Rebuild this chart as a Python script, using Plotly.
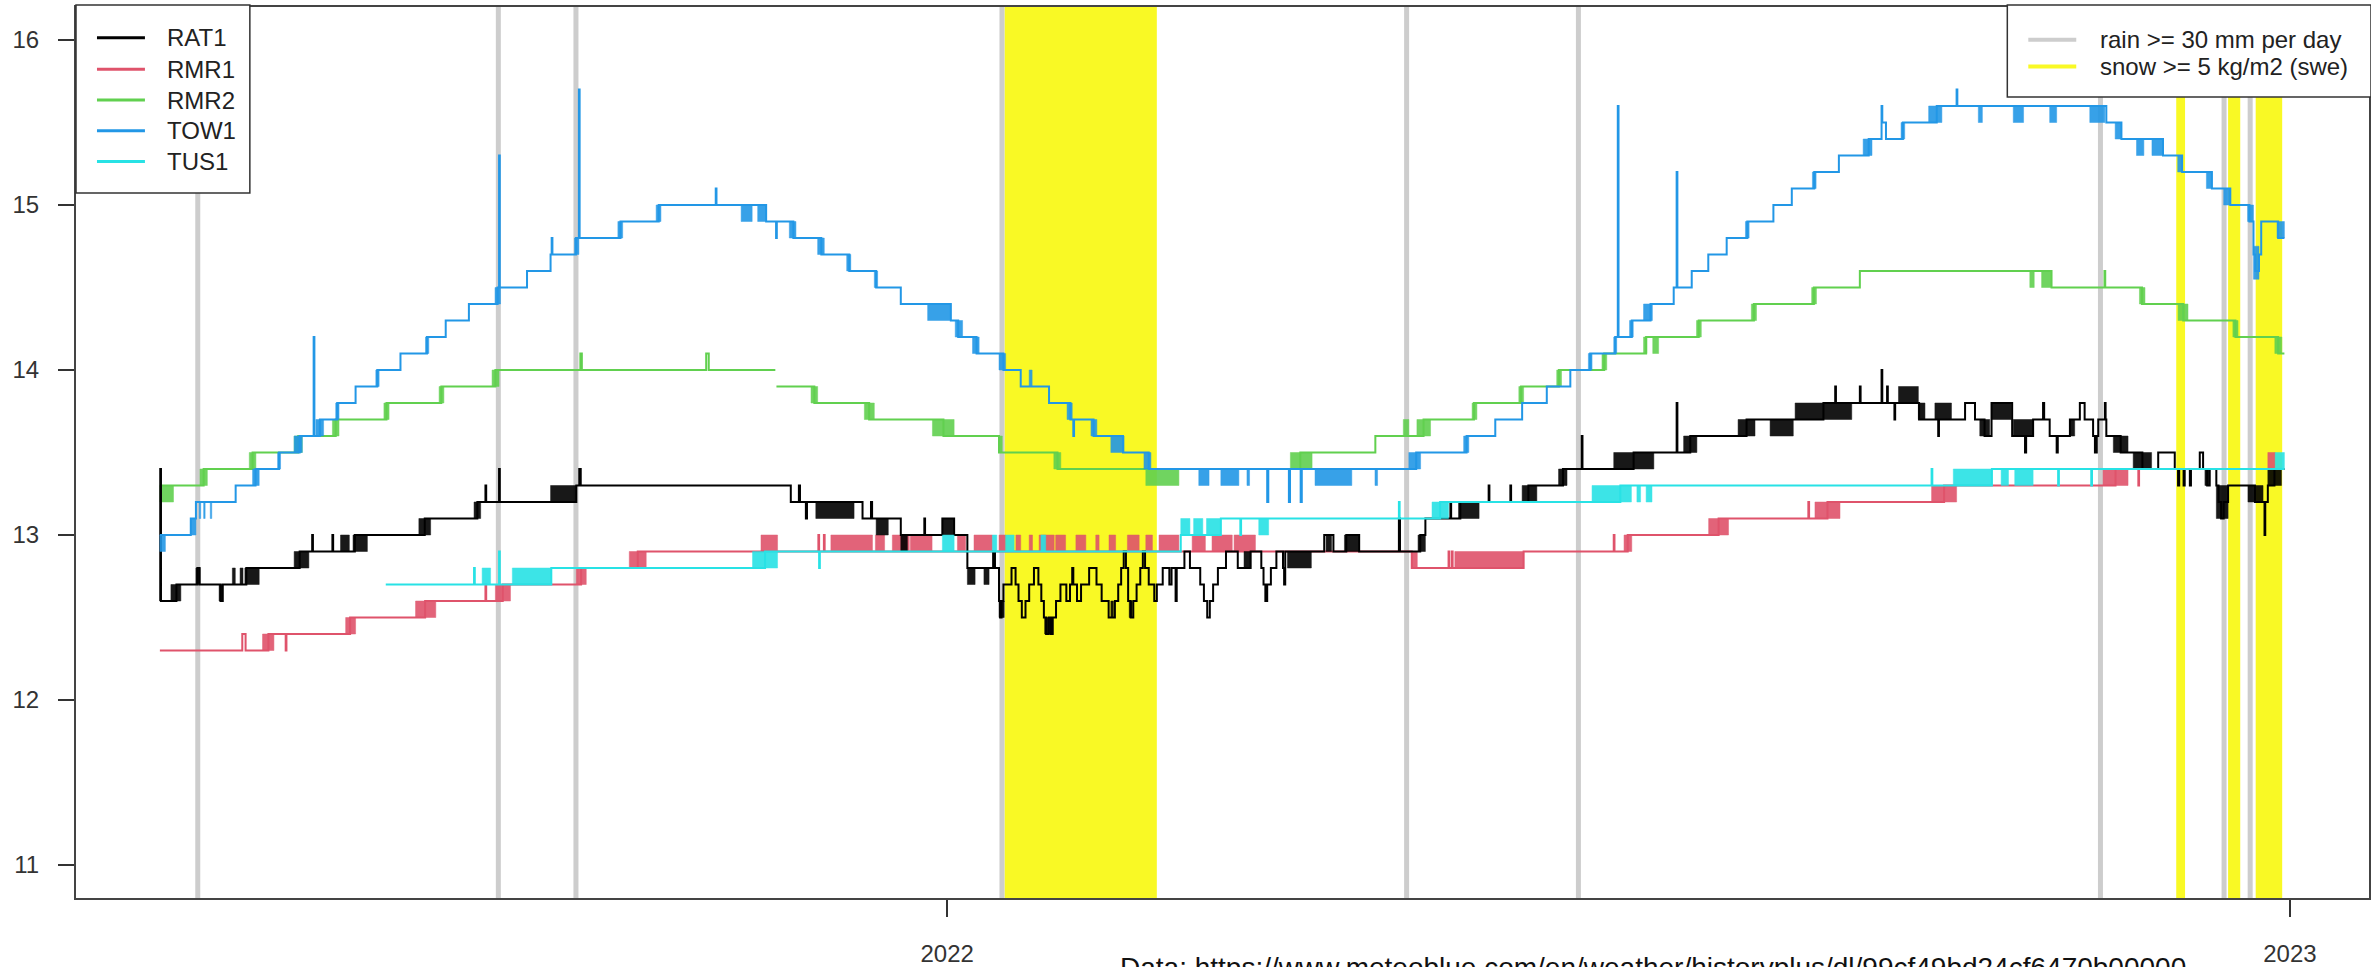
import plotly.graph_objects as go
import pandas as pd

# ---------------- data (x = days since 2022-01-01) ----------------
BASE_DATE = "2022-01-01"
X_RANGE_DAYS = [-236.8, 386.5]
TICK_DAYS = [0, 365]
TICK_LABELS = ["2022", "2023"]
Y_TICKS = [11, 12, 13, 14, 15, 16]

SERIES_NAMES = ["RAT1", "RMR1", "RMR2", "TOW1", "TUS1"]
SERIES_COLORS = {"RAT1": "#000000", "RMR1": "#DF536B", "RMR2": "#61D04F",
                 "TOW1": "#2297E6", "TUS1": "#28E2E5"}

# step-change points (day, value)
TOW1_STEPS = [
    (-214.0, 13.0), (-205.6, 13.1), (-204.2, 13.2), (-193.4, 13.3), (-188.0, 13.4),
    (-181.6, 13.5), (-176.0, 13.6), (-172.2, 14.2), (-172.0, 13.6), (-170.5, 13.7),
    (-165.8, 13.8), (-160.8, 13.9), (-154.9, 14.0), (-148.6, 14.1), (-141.4, 14.2),
    (-136.3, 14.3), (-130.0, 14.4), (-122.2, 14.5), (-121.8, 15.3), (-121.6, 14.5),
    (-114.2, 14.6), (-107.8, 14.7), (-107.5, 14.8), (-107.3, 14.7), (-100.9, 14.8),
    (-100.1, 15.7), (-99.9, 14.8), (-88.8, 14.9), (-78.4, 15.0), (-62.9, 15.1),
    (-62.7, 15.0), (-49.2, 14.9), (-46.5, 14.8), (-46.3, 14.9), (-41.8, 14.8),
    (-34.2, 14.7), (-26.6, 14.6), (-19.3, 14.5), (-12.6, 14.4), (1.0, 14.3),
    (3.0, 14.2), (8.0, 14.1), (15.3, 14.0), (20.0, 13.9), (27.7, 13.8),
    (33.5, 13.7), (34.3, 13.6), (34.5, 13.7), (39.8, 13.6), (47.8, 13.5),
    (54.8, 13.4), (87.0, 13.2), (87.3, 13.4), (92.9, 13.2), (93.2, 13.4),
    (96.1, 13.2), (96.4, 13.4), (127.5, 13.5), (141.2, 13.6), (149.0, 13.7),
    (156.3, 13.8), (163.0, 13.9), (169.4, 14.0), (174.8, 14.1), (181.6, 14.2),
    (182.3, 15.6), (182.5, 14.2), (186.1, 14.3), (191.2, 14.4), (197.5, 14.5),
    (198.3, 15.2), (198.5, 14.5), (202.4, 14.6), (206.9, 14.7), (211.9, 14.8),
    (217.5, 14.9), (224.6, 15.0), (229.6, 15.1), (235.7, 15.2), (242.4, 15.3),
    (250.5, 15.4), (254.0, 15.6), (254.2, 15.5), (255.2, 15.4), (259.8, 15.5),
    (269.0, 15.6), (274.4, 15.7), (274.6, 15.6), (315.1, 15.5), (319.2, 15.4),
    (330.5, 15.3), (335.7, 15.2), (343.8, 15.1), (348.8, 15.0), (354.0, 14.9),
    (355.1, 14.7), (355.6, 14.6), (356.6, 14.7), (357.2, 14.9), (361.8, 14.8),
    (363.5, 14.8),
]
# periods where the reading flickers between two levels (day0, day1, low, high)
TOW1_FLICKER = [
    (-214.0, -212.5, 12.9, 13.0), (-205.6, -204.2, 13.0, 13.1), (-203.3, -202.9, 13.1, 13.2),
    (-202.1, -201.7, 13.1, 13.2), (-200.3, -199.9, 13.1, 13.2), (-188.8, -187.0, 13.3, 13.4),
    (-182.0, -181.2, 13.4, 13.5), (-177.5, -175.3, 13.5, 13.6), (-171.6, -169.5, 13.6, 13.7),
    (-166.2, -165.3, 13.7, 13.8), (-155.3, -154.4, 13.9, 14.0), (-141.8, -140.9, 14.1, 14.2),
    (-122.9, -121.4, 14.4, 14.5), (-101.3, -100.1, 14.7, 14.8), (-89.5, -88.2, 14.8, 14.9),
    (-79.1, -77.8, 14.9, 15.0), (-56.0, -53.0, 14.9, 15.0), (-51.5, -49.2, 14.9, 15.0),
    (-42.9, -41.1, 14.8, 14.9), (-35.2, -33.4, 14.7, 14.8), (-27.3, -26.2, 14.6, 14.7),
    (-19.8, -18.9, 14.5, 14.6), (-5.3, 1.0, 14.3, 14.4), (2.2, 4.2, 14.2, 14.3),
    (6.9, 8.7, 14.1, 14.2), (14.1, 15.9, 14.0, 14.1), (22.3, 23.1, 13.9, 14.0),
    (32.6, 34.0, 13.7, 13.8), (39.1, 40.7, 13.6, 13.7), (44.5, 48.1, 13.5, 13.6),
    (53.5, 55.4, 13.4, 13.5), (68.4, 71.2, 13.3, 13.4), (74.4, 79.3, 13.3, 13.4),
    (81.5, 82.2, 13.3, 13.4), (100.0, 110.0, 13.3, 13.4), (116.3, 117.0, 13.3, 13.4),
    (125.5, 128.7, 13.4, 13.5), (140.4, 141.8, 13.5, 13.6), (174.3, 175.3, 14.0, 14.1),
    (181.2, 182.0, 14.1, 14.2), (185.5, 186.5, 14.2, 14.3), (189.3, 191.7, 14.3, 14.4),
    (217.0, 218.0, 14.8, 14.9), (235.2, 236.2, 15.1, 15.2), (249.0, 251.4, 15.3, 15.4),
    (259.3, 260.3, 15.4, 15.5), (266.8, 270.4, 15.5, 15.6), (280.3, 281.4, 15.5, 15.6),
    (289.8, 292.6, 15.5, 15.6), (299.7, 301.6, 15.5, 15.6), (310.6, 314.7, 15.5, 15.6),
    (317.5, 319.2, 15.4, 15.5), (323.3, 325.3, 15.3, 15.4), (327.5, 330.4, 15.3, 15.4),
    (334.5, 335.7, 15.2, 15.3), (342.3, 343.8, 15.1, 15.2), (347.0, 348.8, 15.0, 15.1),
    (353.5, 355.1, 14.9, 15.0), (355.1, 356.6, 14.55, 14.75), (361.5, 363.5, 14.8, 14.9),
]

RMR2_STEPS = [
    (-214.0, 13.3), (-202.1, 13.4), (-188.8, 13.5), (-176.4, 13.6), (-166.2, 13.7),
    (-152.4, 13.8), (-137.5, 13.9), (-122.8, 14.0), (-99.7, 14.1), (-99.3, 14.0),
    (-65.5, 14.1), (-64.8, 14.0), (-46.7, 14.0), (-46.6, None), (-46.4, 13.9),
    (-36.1, 13.8), (-21.2, 13.7), (-1.0, 13.6), (14.1, 13.5), (30.0, 13.4),
    (96.0, 13.5), (116.4, 13.6), (129.5, 13.7), (143.2, 13.8), (156.0, 13.9),
    (166.3, 14.0), (178.6, 14.1), (190.0, 14.2), (204.3, 14.3), (219.3, 14.4),
    (235.6, 14.5), (248.1, 14.6), (300.2, 14.5), (314.6, 14.6), (314.8, 14.5),
    (324.8, 14.4), (336.0, 14.3), (350.2, 14.2), (361.8, 14.1), (363.5, 14.1),
]
RMR2_FLICKER = [
    (-214.0, -210.3, 13.2, 13.3), (-203.1, -201.1, 13.3, 13.4), (-189.7, -187.9, 13.4, 13.5),
    (-177.5, -175.3, 13.5, 13.6), (-167.1, -165.3, 13.6, 13.7), (-153.1, -151.7, 13.7, 13.8),
    (-138.1, -136.8, 13.8, 13.9), (-123.7, -121.8, 13.9, 14.0), (-37.0, -35.2, 13.8, 13.9),
    (-22.5, -19.8, 13.7, 13.8), (-4.0, 1.9, 13.6, 13.7), (14.1, 15.0, 13.5, 13.6),
    (29.0, 30.9, 13.4, 13.5), (54.0, 63.0, 13.3, 13.4), (93.3, 99.2, 13.4, 13.5),
    (124.0, 125.5, 13.6, 13.7), (127.7, 131.4, 13.6, 13.7), (142.7, 144.0, 13.7, 13.8),
    (155.4, 156.7, 13.8, 13.9), (165.7, 167.0, 13.9, 14.0), (178.0, 179.3, 14.0, 14.1),
    (189.3, 190.2, 14.1, 14.2), (191.8, 193.4, 14.1, 14.2), (203.7, 205.0, 14.2, 14.3),
    (218.6, 220.0, 14.3, 14.4), (235.0, 236.3, 14.4, 14.5), (294.3, 295.5, 14.5, 14.6),
    (297.5, 300.2, 14.5, 14.6), (324.1, 325.6, 14.4, 14.5), (334.6, 337.3, 14.3, 14.4),
    (349.5, 350.9, 14.2, 14.3), (360.9, 362.8, 14.1, 14.2),
]

RAT1_STEPS = [
    (-214.0, 12.6), (-213.9, 13.4), (-213.7, 12.6), (-209.5, 12.7), (-203.8, 12.8),
    (-203.2, 12.7), (-197.5, 12.6), (-196.9, 12.7), (-190.5, 12.8), (-176.0, 12.9),
    (-172.6, 13.0), (-172.4, 12.9), (-167.1, 13.0), (-166.9, 12.9), (-161.0, 13.0),
    (-142.0, 13.1), (-127.7, 13.2), (-125.5, 13.3), (-125.3, 13.2), (-121.8, 13.4),
    (-121.6, 13.2), (-100.8, 13.3), (-100.0, 13.4), (-99.6, 13.3), (-42.5, 13.2),
    (-40.3, 13.3), (-40.0, 13.2), (-38.4, 13.1), (-38.1, 13.2), (-23.0, 13.1),
    (-20.7, 13.2), (-20.4, 13.1), (-12.6, 13.0), (-6.2, 13.1), (-6.0, 13.0),
    (-1.3, 13.1), (1.9, 13.0), (5.5, 12.8), (12.5, 12.9), (13.0, 12.8),
    (14.1, 12.6), (14.4, 12.5), (14.8, 12.6), (15.3, 12.7), (17.5, 12.8),
    (18.6, 12.7), (19.4, 12.6), (20.3, 12.5), (21.3, 12.6), (22.3, 12.7),
    (23.6, 12.8), (24.8, 12.7), (25.6, 12.6), (26.3, 12.5), (26.9, 12.4),
    (27.6, 12.5), (28.2, 12.4), (28.7, 12.5), (29.6, 12.6), (30.8, 12.7),
    (32.4, 12.6), (33.4, 12.7), (34.0, 12.8), (34.3, 12.7), (35.3, 12.6),
    (36.4, 12.7), (38.6, 12.8), (40.6, 12.7), (42.0, 12.6), (43.9, 12.5),
    (45.6, 12.6), (46.5, 12.7), (47.3, 12.8), (48.0, 12.9), (48.6, 12.8),
    (49.2, 12.6), (49.9, 12.5), (50.6, 12.6), (51.5, 12.7), (52.5, 12.8),
    (53.2, 12.9), (53.8, 12.8), (54.8, 12.7), (56.3, 12.6), (57.0, 12.7),
    (58.6, 12.8), (60.4, 12.7), (61.0, 12.8), (62.1, 12.6), (62.4, 12.8),
    (64.5, 12.9), (66.0, 12.8), (68.8, 12.7), (69.8, 12.6), (70.7, 12.5),
    (71.4, 12.6), (72.3, 12.7), (73.6, 12.8), (75.8, 12.9), (79.0, 12.8),
    (82.5, 12.9), (85.4, 12.8), (86.0, 12.7), (86.5, 12.6), (87.0, 12.7),
    (88.0, 12.8), (89.5, 12.9), (91.3, 12.8), (91.6, 12.7), (91.9, 12.9),
    (102.5, 13.0), (105.0, 12.9), (108.5, 13.0), (112.0, 12.9), (122.8, 13.1),
    (123.1, 12.9), (128.6, 13.0), (130.0, 13.1), (136.8, 13.2), (137.0, 13.1),
    (139.5, 13.2), (147.2, 13.3), (147.4, 13.2), (153.1, 13.3), (153.3, 13.2),
    (158.0, 13.3), (167.4, 13.4), (172.5, 13.6), (172.7, 13.4), (186.6, 13.5),
    (198.3, 13.8), (198.5, 13.5), (202.0, 13.6), (217.3, 13.7), (238.2, 13.8),
    (241.4, 13.9), (241.6, 13.8), (248.1, 13.9), (248.3, 13.8), (254.0, 14.0),
    (254.2, 13.8), (255.5, 13.9), (255.7, 13.8), (257.5, 13.7), (257.7, 13.8),
    (264.2, 13.7), (269.4, 13.6), (269.6, 13.7), (276.7, 13.8), (279.4, 13.7),
    (282.0, 13.6), (283.9, 13.8), (289.5, 13.6), (293.0, 13.5), (293.3, 13.6),
    (295.2, 13.7), (297.9, 13.8), (298.2, 13.7), (299.7, 13.6), (301.6, 13.5),
    (301.9, 13.6), (305.2, 13.7), (307.9, 13.8), (309.2, 13.7), (311.5, 13.6),
    (312.0, 13.5), (312.5, 13.6), (312.9, 13.7), (314.7, 13.8), (314.9, 13.7),
    (315.1, 13.6), (319.0, 13.5), (324.9, 13.4), (329.2, 13.5), (333.7, 13.4),
    (334.6, 13.3), (334.9, 13.4), (336.1, 13.3), (336.4, 13.4), (337.8, 13.3),
    (338.1, 13.4), (340.5, 13.5), (341.4, 13.4), (342.5, 13.3), (343.2, 13.4),
    (345.0, 13.3), (345.6, 13.2), (346.3, 13.1), (347.0, 13.2), (348.2, 13.3),
    (355.5, 13.2), (358.1, 13.0), (358.3, 13.2), (359.0, 13.3), (360.8, 13.4),
    (363.5, 13.4),
]
RAT1_FLICKER = [
    (-211.0, -208.3, 12.6, 12.7), (-204.2, -203.1, 12.7, 12.8), (-197.9, -197.0, 12.6, 12.7),
    (-194.3, -193.5, 12.7, 12.8), (-192.2, -191.4, 12.7, 12.8), (-190.9, -187.0, 12.7, 12.8),
    (-177.5, -173.5, 12.8, 12.9), (-164.9, -162.5, 12.9, 13.0), (-161.5, -157.6, 12.9, 13.0),
    (-143.6, -140.4, 13.0, 13.1), (-128.6, -126.8, 13.1, 13.2), (-107.8, -100.8, 13.2, 13.3),
    (-35.7, -25.3, 13.1, 13.2), (-19.3, -16.0, 13.0, 13.1), (-12.6, -10.8, 12.9, 13.0),
    (-1.3, 1.9, 13.0, 13.1), (5.5, 7.6, 12.7, 12.8), (10.0, 11.4, 12.7, 12.8),
    (14.1, 15.5, 12.5, 12.6), (26.5, 28.7, 12.4, 12.5), (44.5, 45.2, 12.5, 12.6),
    (49.5, 50.3, 12.5, 12.6), (80.7, 82.5, 12.8, 12.9), (92.5, 99.0, 12.8, 12.9),
    (103.0, 104.5, 12.9, 13.0), (108.0, 112.0, 12.9, 13.0), (128.0, 130.0, 12.9, 13.0),
    (139.0, 144.6, 13.1, 13.2), (156.3, 160.3, 13.2, 13.3), (166.2, 168.5, 13.3, 13.4),
    (181.2, 192.1, 13.4, 13.5), (200.2, 203.8, 13.5, 13.6), (215.0, 219.6, 13.6, 13.7),
    (223.7, 230.0, 13.6, 13.7), (230.5, 245.9, 13.7, 13.8), (258.6, 264.0, 13.8, 13.9),
    (264.0, 265.8, 13.7, 13.8), (268.5, 273.0, 13.7, 13.8), (280.7, 283.4, 13.6, 13.7),
    (283.9, 289.3, 13.7, 13.8), (289.8, 295.2, 13.6, 13.7), (305.2, 306.5, 13.6, 13.7),
    (317.0, 321.0, 13.5, 13.6), (322.4, 327.4, 13.4, 13.5), (341.9, 343.2, 13.3, 13.4),
    (345.0, 348.2, 13.1, 13.3), (353.6, 357.7, 13.2, 13.3), (359.0, 362.7, 13.3, 13.4),
]

RMR1_STEPS = [
    (-214.0, 12.3), (-191.6, 12.4), (-190.7, 12.3), (-184.5, 12.4), (-179.8, 12.3),
    (-179.6, 12.4), (-162.3, 12.5), (-141.9, 12.6), (-125.5, 12.7), (-125.3, 12.6),
    (-120.8, 12.7), (-99.5, 12.8), (-84.1, 12.9), (-35.0, 13.0), (-34.8, 12.9),
    (-33.5, 13.0), (-33.3, 12.9), (126.3, 12.8), (136.3, 12.9), (136.5, 12.8),
    (137.2, 12.9), (137.4, 12.8), (156.7, 12.9), (181.2, 13.0), (181.4, 12.9),
    (185.0, 13.0), (209.7, 13.1), (234.1, 13.2), (234.3, 13.1), (239.3, 13.2),
    (271.0, 13.3), (317.6, 13.4), (323.8, 13.3), (324.0, 13.4), (363.5, 13.4),
]
RMR1_FLICKER = [
    (-186.1, -183.0, 12.3, 12.4), (-163.5, -160.8, 12.4, 12.5), (-144.5, -139.0, 12.5, 12.6),
    (-122.8, -118.7, 12.6, 12.7), (-100.8, -98.1, 12.7, 12.8), (-86.4, -81.8, 12.8, 12.9),
    (-50.6, -46.1, 12.9, 13.0), (-31.6, -20.3, 12.9, 13.0), (-19.5, -17.0, 12.9, 13.0),
    (-14.9, -10.3, 12.9, 13.0), (-10.0, -4.1, 12.9, 13.0), (2.8, 5.0, 12.9, 13.0),
    (7.3, 12.3, 12.9, 13.0), (14.1, 15.9, 12.9, 13.0), (18.7, 20.0, 12.9, 13.0),
    (22.3, 23.2, 12.9, 13.0), (25.0, 29.1, 12.9, 13.0), (29.5, 32.2, 12.9, 13.0),
    (35.0, 37.7, 12.9, 13.0), (40.4, 41.3, 12.9, 13.0), (44.0, 45.8, 12.9, 13.0),
    (49.0, 52.2, 12.9, 13.0), (54.0, 55.8, 12.9, 13.0), (57.6, 63.0, 12.9, 13.0),
    (66.6, 70.2, 12.9, 13.0), (72.0, 77.5, 12.9, 13.0), (78.0, 83.8, 12.9, 13.0),
    (126.3, 127.8, 12.8, 12.9), (138.0, 156.7, 12.8, 12.9), (184.0, 186.1, 12.9, 13.0),
    (207.0, 212.4, 13.0, 13.1), (235.9, 242.7, 13.1, 13.2), (267.6, 274.4, 13.2, 13.3),
    (314.2, 321.0, 13.3, 13.4), (359.0, 361.0, 13.4, 13.5),
]

TUS1_STEPS = [
    (-152.6, 12.7), (-128.6, 12.8), (-128.4, 12.7), (-121.8, 12.9), (-121.6, 12.7),
    (-107.6, 12.8), (-49.5, 12.9), (-34.8, 12.8), (-34.6, 12.9), (63.5, 13.0),
    (74.4, 13.1), (79.7, 13.0), (79.9, 13.1), (122.8, 13.2), (123.0, 13.1),
    (134.0, 13.2), (183.0, 13.3), (267.6, 13.4), (267.8, 13.3), (284.0, 13.4),
    (302.0, 13.3), (302.2, 13.4), (311.0, 13.3), (311.2, 13.4), (363.5, 13.4),
]
TUS1_FLICKER = [
    (-126.4, -124.1, 12.7, 12.8), (-118.2, -107.6, 12.7, 12.8), (-52.9, -46.1, 12.8, 12.9),
    (-1.3, 1.9, 12.9, 13.0), (12.3, 13.5, 12.9, 13.0), (15.9, 18.2, 12.9, 13.0),
    (25.5, 26.8, 12.9, 13.0), (63.5, 66.0, 13.0, 13.1), (67.0, 69.5, 13.0, 13.1),
    (70.5, 74.4, 13.0, 13.1), (84.7, 87.4, 13.0, 13.1), (131.8, 136.3, 13.1, 13.2),
    (175.3, 186.0, 13.2, 13.3), (187.5, 188.5, 13.2, 13.3), (190.0, 191.6, 13.2, 13.3),
    (273.5, 283.9, 13.3, 13.4), (286.5, 288.5, 13.3, 13.4), (290.2, 295.2, 13.3, 13.4),
    (361.0, 363.5, 13.4, 13.5),
]

# weather events
RAIN_DAYS = [-203.7, -122.0, -100.9, 14.9, 124.9, 171.6, 313.5, 347.1, 354.2]
SNOW_PERIODS = [(15.6, 57.0), (334.1, 336.5), (348.2, 351.5), (355.7, 362.9)]
RAIN_LABEL = "rain >= 30 mm per day"
SNOW_LABEL = "snow >= 5 kg/m2 (swe)"
SOURCE_TEXT = "Data: https://www.meteoblue.com/en/weather/historyplus/dl/99cf49bd24cf6470b00000"

RAIN_COLOR = "#cdcdcd"
SNOW_COLOR = "#f9f925"

# ---------------- layout constants (pixels) ----------------
W, H = 2371, 967
M_L, M_R, M_T, M_B = 76, 0, 7, 60
PW, PH = W - M_L - M_R, H - M_T - M_B


def px_x(X):
    return (X - M_L) / PW


def px_y(Y):
    return (H - M_B - Y) / PH


# ---------------- helpers ----------------
base = pd.Timestamp(BASE_DATE)


def to_date(d):
    if d is None:
        return None
    return base + pd.Timedelta(days=d)


def step_xy(steps):
    return [to_date(d) for d, _ in steps], [v for _, v in steps]


def flicker_xy(blocks):
    xs, ys = [], []
    for d0, d1, lo, hi in blocks:
        xs += [to_date(d0), to_date(d1), to_date(d1), to_date(d0), to_date(d0), None]
        ys += [lo, lo, hi, hi, lo, None]
    return xs, ys


DATA = {
    "RAT1": (RAT1_STEPS, RAT1_FLICKER),
    "RMR1": (RMR1_STEPS, RMR1_FLICKER),
    "RMR2": (RMR2_STEPS, RMR2_FLICKER),
    "TOW1": (TOW1_STEPS, TOW1_FLICKER),
    "TUS1": (TUS1_STEPS, TUS1_FLICKER),
}
DRAW_ORDER = ["RMR1", "RMR2", "RAT1", "TOW1", "TUS1"]

fig = go.Figure()

for name in DRAW_ORDER:
    steps, flick = DATA[name]
    col = SERIES_COLORS[name]
    fx, fy = flicker_xy(flick)
    fig.add_trace(go.Scatter(
        x=fx, y=fy, mode="lines", fill="toself", fillcolor=col,
        line=dict(width=0.5, color=col), opacity=0.9,
        hoverinfo="skip", showlegend=False))
    sx, sy = step_xy(steps)
    fig.add_trace(go.Scatter(
        x=sx, y=sy, mode="lines", name=name, line=dict(color=col, width=2, shape="hv"),
        connectgaps=False, showlegend=False))

shapes = []
for d0, d1 in SNOW_PERIODS:
    shapes.append(dict(type="rect", xref="x", yref="paper", x0=to_date(d0), x1=to_date(d1),
                       y0=0, y1=1, fillcolor=SNOW_COLOR, line=dict(width=0), layer="below"))
for d in RAIN_DAYS:
    shapes.append(dict(type="line", xref="x", yref="paper", x0=to_date(d), x1=to_date(d),
                       y0=0, y1=1, line=dict(color=RAIN_COLOR, width=5), layer="below"))

FONT = "Liberation Sans, Arial, Helvetica, sans-serif"
annotations = []

# ---- legend 1 (series), top-left ----
LEG1_BOX = (76, 250, 5, 195)          # x0, x1, y0(top), y1(bottom) in px
LEG1_ROWS = [38, 70, 101, 132, 163]
LEG1_SAMPLE = (97, 145)
LEG1_TEXT_X = 165
shapes.append(dict(type="rect", xref="paper", yref="paper",
                   x0=px_x(LEG1_BOX[0]), x1=px_x(LEG1_BOX[1]),
                   y0=px_y(LEG1_BOX[3]), y1=px_y(LEG1_BOX[2]),
                   fillcolor="white", line=dict(color="#333333", width=1.5), layer="above"))
for name, row in zip(SERIES_NAMES, LEG1_ROWS):
    shapes.append(dict(type="line", xref="paper", yref="paper",
                       x0=px_x(LEG1_SAMPLE[0]), x1=px_x(LEG1_SAMPLE[1]),
                       y0=px_y(row), y1=px_y(row),
                       line=dict(color=SERIES_COLORS[name], width=3), layer="above"))
    annotations.append(dict(text=name, xref="paper", yref="paper", x=px_x(LEG1_TEXT_X),
                            y=px_y(row), xanchor="left", yanchor="middle", showarrow=False,
                            font=dict(size=24, color="#222222", family=FONT)))

# ---- legend 2 (weather), top-right ----
LEG2_BOX = (2009, 2373, 5, 98)
LEG2_ROWS = [40, 67]
LEG2_SAMPLE = (2030, 2078)
LEG2_TEXT_X = 2100
shapes.append(dict(type="rect", xref="paper", yref="paper",
                   x0=px_x(LEG2_BOX[0]), x1=px_x(LEG2_BOX[1]),
                   y0=px_y(LEG2_BOX[3]), y1=px_y(LEG2_BOX[2]),
                   fillcolor="white", line=dict(color="#333333", width=1.5), layer="above"))
for label, col, row in zip([RAIN_LABEL, SNOW_LABEL], [RAIN_COLOR, SNOW_COLOR], LEG2_ROWS):
    shapes.append(dict(type="line", xref="paper", yref="paper",
                       x0=px_x(LEG2_SAMPLE[0]), x1=px_x(LEG2_SAMPLE[1]),
                       y0=px_y(row), y1=px_y(row),
                       line=dict(color=col, width=4), layer="above"))
    annotations.append(dict(text=label, xref="paper", yref="paper", x=px_x(LEG2_TEXT_X),
                            y=px_y(row), xanchor="left", yanchor="middle", showarrow=False,
                            font=dict(size=24, color="#222222", family=FONT)))

# ---- source line (partly below the page edge, as in the original) ----
annotations.append(dict(text=SOURCE_TEXT, xref="paper", yref="paper", x=px_x(1119),
                        y=px_y(960), xanchor="left", yanchor="top", showarrow=False,
                        font=dict(size=28, color="#111111", family=FONT)))

fig.update_layout(
    width=W, height=H,
    margin=dict(l=M_L, r=M_R, t=M_T, b=M_B),
    paper_bgcolor="white", plot_bgcolor="white",
    font=dict(family=FONT, size=24, color="#222222"),
    shapes=shapes, annotations=annotations,
    showlegend=False,
)

fig.update_xaxes(
    type="date", range=[to_date(X_RANGE_DAYS[0]), to_date(X_RANGE_DAYS[1])],
    tickmode="array", tickvals=[to_date(d) for d in TICK_DAYS], ticktext=TICK_LABELS,
    ticks="outside", ticklen=17, tickwidth=1.5, tickcolor="#333333",
    showline=True, linecolor="#444444", linewidth=2, mirror=True,
    showgrid=False, zeroline=False, ticklabelstandoff=16,
    tickfont=dict(size=24, color="#333333"),
)
fig.update_yaxes(
    range=[10.8, 16.2], tickmode="array", tickvals=Y_TICKS,
    ticktext=[str(t) for t in Y_TICKS],
    ticks="outside", ticklen=16, tickwidth=1.5, tickcolor="#333333",
    showline=True, linecolor="#444444", linewidth=2, mirror=True,
    showgrid=False, zeroline=False, ticklabelstandoff=14,
    tickfont=dict(size=24, color="#333333"),
)

fig.write_html("out.html", config={"displayModeBar": False},
               post_script="document.body.style.margin='0';document.body.style.overflow='hidden';")
